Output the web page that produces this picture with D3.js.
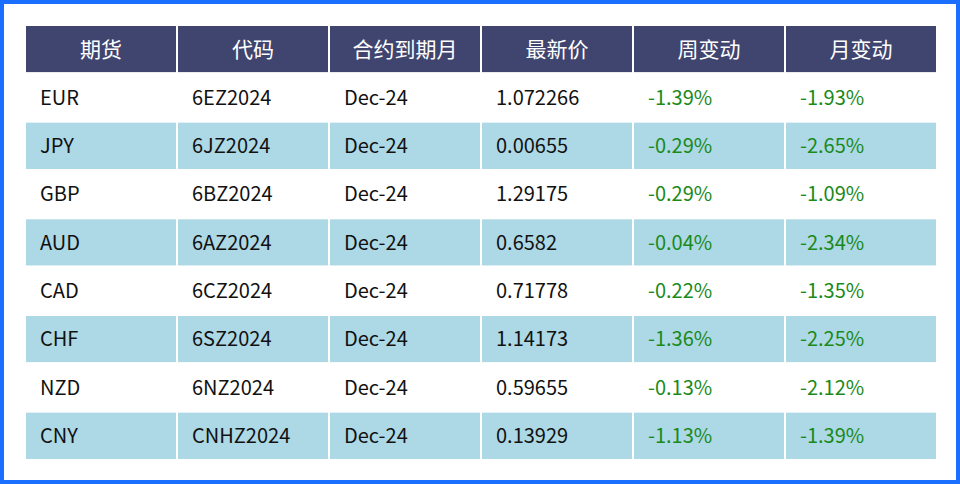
<!DOCTYPE html><html><head><meta charset="utf-8"><script src="https://cdn.jsdelivr.net/npm/d3@7"></script>
<style>body{margin:0;background:#fff}</style></head><body><svg id="c" width="960" height="484"></svg>
<script>
const headers=["期货","代码","合约到期月","最新价","周变动","月变动"];
const futures=["EUR","JPY","GBP","AUD","CAD","CHF","NZD","CNY"];
const codes=["6EZ2024","6JZ2024","6BZ2024","6AZ2024","6CZ2024","6SZ2024","6NZ2024","CNHZ2024"];
const expiry=["Dec-24","Dec-24","Dec-24","Dec-24","Dec-24","Dec-24","Dec-24","Dec-24"];
const prices=["1.072266","0.00655","1.29175","0.6582","0.71778","1.14173","0.59655","0.13929"];
const weekly=["-1.39%","-0.29%","-0.29%","-0.04%","-0.22%","-1.36%","-0.13%","-1.13%"];
const monthly=["-1.93%","-2.65%","-1.09%","-2.34%","-1.35%","-2.25%","-2.12%","-1.39%"];
const svg=d3.select("#c"),F="'Noto Sans CJK SC',sans-serif";
svg.append("rect").attr("x",2).attr("y",2).attr("width",956).attr("height",480).attr("fill","#fff").attr("stroke","#1a6fff").attr("stroke-width",4);
const x=d3.scaleBand().domain(d3.range(6)).range([25,937]);
const y=d3.scaleBand().domain(d3.range(9)).range([25,460]);
const rows=futures.map((f,i)=>[f,codes[i],expiry[i],prices[i],weekly[i],monthly[i]]);
headers.forEach((h,j)=>{
 svg.append("rect").attr("x",x(j)).attr("y",y(0)).attr("width",x.bandwidth()).attr("height",y.bandwidth()).attr("fill","#3f456f").attr("stroke","#fff").attr("stroke-width",2);
 svg.append("text").attr("x",x(j)+x.bandwidth()/2).attr("y",y(0)+y.bandwidth()/2).attr("dy","0.35em").attr("text-anchor","middle").attr("fill","#fff").attr("font-family",F).attr("font-size",21).text(h);
});
rows.forEach((r,i)=>r.forEach((v,j)=>{
 svg.append("rect").attr("x",x(j)).attr("y",y(i+1)).attr("width",x.bandwidth()).attr("height",y.bandwidth()).attr("fill",i%2?"#add8e6":"#fff").attr("stroke","#fff").attr("stroke-width",2);
 svg.append("text").attr("x",x(j)+15).attr("y",y(i+1)+y.bandwidth()/2).attr("dy","0.35em").attr("fill",j>=4?"#1a8a1a":"#111").attr("font-family",F).attr("font-size",20).text(v);
}));
</script></body></html>
